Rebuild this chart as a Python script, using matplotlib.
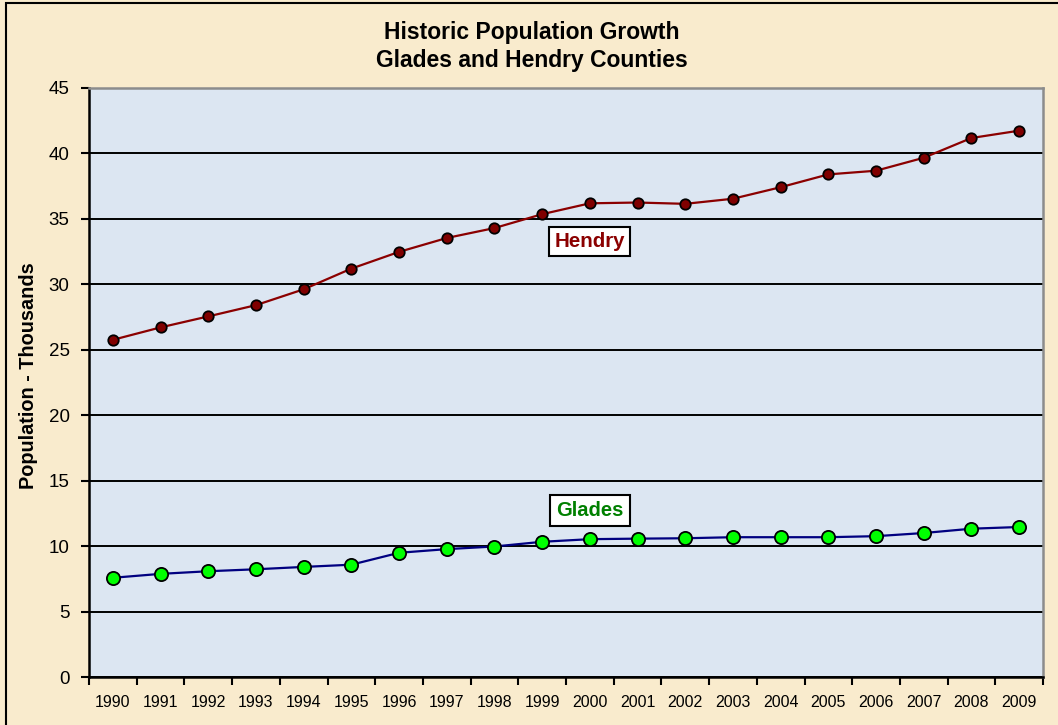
import matplotlib.pyplot as plt
import numpy as np
from matplotlib.patches import Rectangle

plt.rcParams['font.family'] = ['Liberation Sans', 'DejaVu Sans']

years = [str(y) for y in range(1990, 2010)]
hendry = [25.76, 26.71, 27.55, 28.41, 29.62, 31.2, 32.48, 33.54, 34.3, 35.36,
          36.19, 36.25, 36.15, 36.54, 37.42, 38.4, 38.68, 39.67, 41.18, 41.74]
glades = [7.58, 7.88, 8.08, 8.23, 8.41, 8.58, 9.49, 9.77, 9.97, 10.33,
          10.53, 10.57, 10.6, 10.68, 10.68, 10.68, 10.76, 11.0, 11.33, 11.46]

fig = plt.figure(figsize=(10.58, 7.25), dpi=100, facecolor='#f9ebcd')
# outer frame of the chart area
fig.patches.append(Rectangle((6 / 1058, -0.05), 1.1, (725 - 3) / 725 + 0.05,
                             transform=fig.transFigure, fill=False,
                             edgecolor='black', linewidth=1.5))

ax = fig.add_axes([89 / 1058, 48 / 725, 954 / 1058, 589 / 725])
ax.set_facecolor('#dce6f2')

x = np.arange(len(years))
ax.plot(x, hendry, color='#8b0000', linewidth=1.6, marker='o', markersize=7.5,
        markerfacecolor='#800000', markeredgecolor='black', markeredgewidth=1.3, zorder=3)
ax.plot(x, glades, color='#000080', linewidth=1.6, marker='o', markersize=9.5,
        markerfacecolor='#00ff00', markeredgecolor='black', markeredgewidth=1.3, zorder=3)

ax.set_xlim(-0.5, len(years) - 0.5)
ax.set_ylim(0, 45)
ax.set_yticks(range(0, 46, 5))
ax.yaxis.grid(True, color='black', linewidth=1.4)
ax.set_axisbelow(True)

# tick marks on category boundaries, labels at centres
ax.set_xticks(np.arange(-0.5, len(years), 1.0))
ax.set_xticklabels([])
ax.set_xticks(x, minor=True)
ax.set_xticklabels(years, minor=True)
ax.tick_params(axis='x', which='major', direction='out', length=6, width=1.5)
ax.tick_params(axis='x', which='minor', length=0, pad=13, labelsize=11.5)
ax.tick_params(axis='y', direction='out', length=6, width=1.5, labelsize=13.5, pad=8)

for s in ['left', 'bottom']:
    ax.spines[s].set_linewidth(1.8)
    ax.spines[s].set_color('black')
for s in ['top', 'right']:
    ax.spines[s].set_linewidth(1.8)
    ax.spines[s].set_color('#8c8c8c')

ax.set_ylabel('Population - Thousands', fontsize=14.3, fontweight='bold')
ax.yaxis.set_label_coords(-0.0535, 0.511)

fig.text(532 / 1058, 1 - 33 / 725, 'Historic Population Growth', ha='center', va='center',
         fontsize=16.5, fontweight='bold')
fig.text(532 / 1058, 1 - 60 / 725, 'Glades and Hendry Counties', ha='center', va='center',
         fontsize=16.5, fontweight='bold')

ax.text(10.0, 33.25, 'Hendry', ha='center', va='center', fontsize=14.8, fontweight='bold',
        color='#8b0000', bbox=dict(boxstyle='square,pad=0.25', facecolor='white',
                                   edgecolor='black', linewidth=1.5))
ax.text(10.0, 12.7, 'Glades', ha='center', va='center', fontsize=14.5, fontweight='bold',
        color='#008000', bbox=dict(boxstyle='square,pad=0.3', facecolor='white',
                                   edgecolor='black', linewidth=1.5))

fig.savefig('out.png', dpi=100, facecolor=fig.get_facecolor())
